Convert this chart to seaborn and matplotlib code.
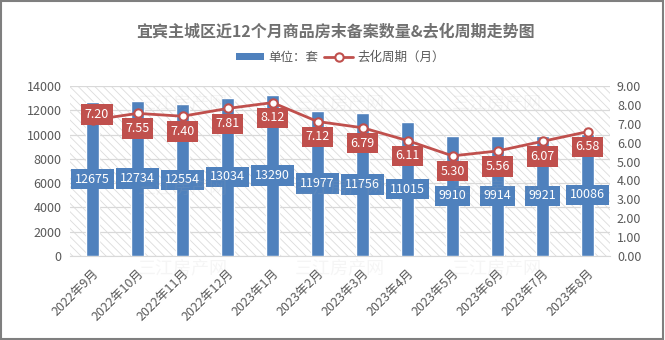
import numpy as np
import pandas as pd
import matplotlib
matplotlib.use("Agg")
import matplotlib.pyplot as plt
import seaborn as sns
from matplotlib.patches import Rectangle, Patch
from matplotlib.lines import Line2D

months = ["2022年9月", "2022年10月", "2022年11月", "2022年12月", "2023年1月", "2023年2月",
          "2023年3月", "2023年4月", "2023年5月", "2023年6月", "2023年7月", "2023年8月"]
stock = [12675, 12734, 12554, 13034, 13290, 11977, 11756, 11015, 9910, 9914, 9921, 10086]
cycle = [7.20, 7.55, 7.40, 7.81, 8.12, 7.12, 6.79, 6.11, 5.30, 5.56, 6.07, 6.58]
left_ticks = [0, 2000, 4000, 6000, 8000, 10000, 12000, 14000]
right_ticks = [0, 1, 2, 3, 4, 5, 6, 7, 8, 9]
title = "宜宾主城区近12个月商品房末备案数量&去化周期走势图"
bar_label = "单位：套"
line_label = "去化周期（月）"

sns.set_style("white")
plt.rcParams["font.family"] = ["Noto Sans CJK SC", "DejaVu Sans"]
plt.rcParams["hatch.color"] = "#dcdcdc"
plt.rcParams["hatch.linewidth"] = 0.6

BLUE = "#4F81BD"
RED = "#C0504D"
GRAY = "#595959"

df = pd.DataFrame({"month": months, "stock": stock, "cycle": cycle, "pos": np.arange(len(months))})

fig = plt.figure(figsize=(6.65, 3.4), dpi=100)
ax = fig.add_axes([70 / 665, 1 - 256 / 340, 540 / 665, 170 / 340])

# hatched plot background
bg = Rectangle((0, 0), 1, 1, transform=ax.transAxes, facecolor="white",
               edgecolor="#dcdcdc", hatch="\\\\\\\\", lw=0, zorder=-10)
ax.add_patch(bg)

sns.barplot(data=df, x="month", y="stock", color=BLUE, width=0.29, saturation=1,
            ax=ax, zorder=3)
ax.set_ylim(0, 14000)
ax.set_yticks(left_ticks)
ax.set_xlim(-0.5, len(months) - 0.5)
ax.yaxis.grid(True, color="#d9d9d9", lw=0.9, zorder=1)
ax.set_axisbelow(True)
for s in ["left", "right", "top"]:
    ax.spines[s].set_visible(False)
ax.spines["bottom"].set_color("#d9d9d9")
ax.set_xlabel("")
ax.set_ylabel("")
ax.tick_params(axis="y", length=0, labelsize=9, labelcolor=GRAY, pad=6)
ax.tick_params(axis="x", length=0, labelsize=9, labelcolor=GRAY, pad=8)
ax.set_xticks(range(len(months)))
ax.set_xticklabels(months, rotation=45, ha="right", rotation_mode="anchor")

for i, v in enumerate(stock):
    ax.text(i, v / 2, f"{v}", ha="center", va="center", color="white", fontsize=9,
            zorder=6, bbox=dict(boxstyle="square,pad=0.3", fc=BLUE, ec="none"))

ax2 = ax.twinx()
sns.lineplot(data=df, x="pos", y="cycle", ax=ax2, color=RED, lw=2, marker="o",
             markersize=6, markerfacecolor="white", markeredgecolor=RED,
             markeredgewidth=1.5, zorder=5)
ax2.set_ylim(0, 9)
ax2.set_yticks(right_ticks)
ax2.set_yticklabels([f"{t:.2f}" for t in right_ticks])
ax2.set_xlim(-0.5, len(months) - 0.5)
ax2.set_xlabel("")
ax2.set_ylabel("")
ax2.patch.set_visible(False)
for s in ax2.spines.values():
    s.set_visible(False)
ax2.tick_params(axis="y", length=0, labelsize=9, labelcolor=GRAY, pad=5)

for i, v in enumerate(cycle):
    if i == 0:
        off = (3, 4)
    else:
        off = (0, -11)
    ax2.annotate(f"{v:.2f}", (i, v), xytext=off, textcoords="offset points",
                 ha="center", va="center", color="white", fontsize=9, zorder=7,
                 bbox=dict(boxstyle="square,pad=0.3", fc=RED, ec="none"))

fig.text(335 / 665, 1 - 31 / 340, title, ha="center", va="center", fontsize=11.5,
         fontweight="bold", color="#707070")

handles = [Patch(facecolor=BLUE, edgecolor="none"),
           Line2D([0], [0], color=RED, lw=2, marker="o", markersize=6,
                  markerfacecolor="white", markeredgecolor=RED, markeredgewidth=1.5)]
fig.legend(handles, [bar_label, line_label], loc="center", ncol=2,
           bbox_to_anchor=(340 / 665, 1 - 57 / 340), frameon=False, fontsize=9,
           labelcolor=GRAY, handlelength=2.3, handleheight=0.5, columnspacing=0.5,
           handletextpad=0.3)

# faint watermark
for wx in [183, 340, 497]:
    for wy in [103, 188, 268]:
        fig.text(wx / 665, 1 - wy / 340, "三江房产网", ha="center", va="center",
                 fontsize=13, color="#b0b0b0", alpha=0.12, zorder=0)

fig.patches.append(Rectangle((0.0015, 0.003), 0.995, 0.994, transform=fig.transFigure,
                             fill=False, edgecolor="#7f7f7f", lw=1.5))

fig.savefig("out.png", dpi=100)
